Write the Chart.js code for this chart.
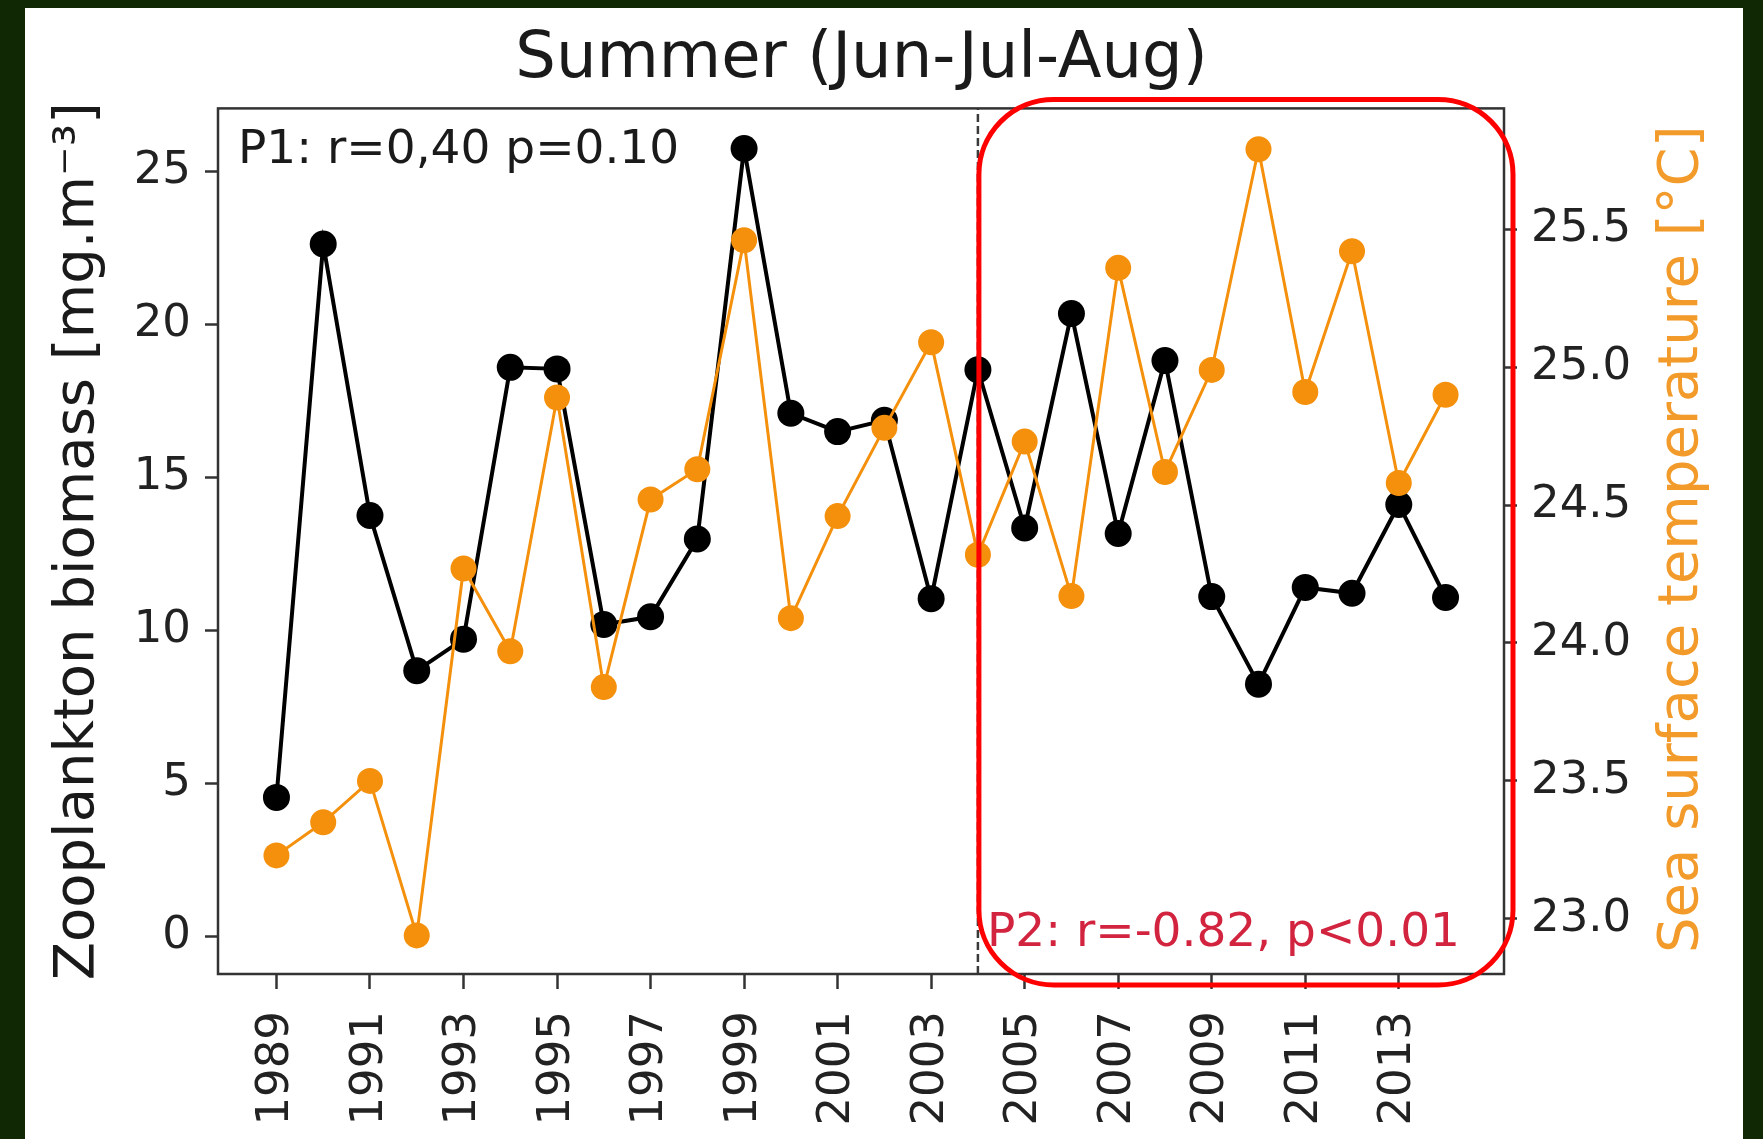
<!DOCTYPE html>
<html>
<head>
<meta charset="utf-8">
<script src="https://cdn.jsdelivr.net/npm/chart.js@4.4.0/dist/chart.umd.min.js"></script>
<style>
  html, body { margin:0; padding:0; background:#112805; }
  #caja { position:absolute; left:0; top:0; width:1763px; height:1139px; }
</style>
</head>
<body>
<div id="caja"><canvas id="grafico" width="1763" height="1139"></canvas></div>
<script>
// datos
var anios = [1989,1990,1991,1992,1993,1994,1995,1996,1997,1998,1999,2000,2001,
             2002,2003,2004,2005,2006,2007,2008,2009,2010,2011,2012,2013,2014];
var zooplancton = [4.55,22.63,13.76,8.69,9.72,18.6,18.55,10.2,10.45,12.99,25.75,17.1,16.5,
                   16.87,11.04,18.52,13.35,20.36,13.17,18.82,11.11,8.25,11.41,11.22,14.12,11.08];
var temperatura = [23.23,23.35,23.50,22.94,24.27,23.97,24.89,23.84,24.52,24.63,25.46,24.09,24.46,
                   24.78,25.09,24.32,24.73,24.17,25.36,24.62,24.99,25.79,24.91,25.42,24.58,24.90];
var ticksX = [1989,1991,1993,1995,1997,1999,2001,2003,2005,2007,2009,2011,2013];
var ticksIzq = [0,5,10,15,20,25];
var ticksDer = [23.0,23.5,24.0,24.5,25.0,25.5];
var anioCorte = 2004;
var limitesIzq = [-1.22, 27.06];
var titulo = 'Summer (Jun-Jul-Aug)';
var etiquetaIzq = 'Zooplankton biomass [mg.m\u207B\u00B3]';
var etiquetaDer = 'Sea surface temperature [\u00B0C]';
var textoP1 = 'P1: r=0,40 p=0.10';
var textoP2 = 'P2: r=-0.82, p<0.01';

var fuente = 'DejaVu Sans';
var naranja = '#f4900c';

// fondo verde y hoja blanca
var fondo = {
  id: 'fondo',
  beforeDraw: function(chart){
    var ctx = chart.ctx;
    ctx.save();
    ctx.fillStyle = '#112805';
    ctx.fillRect(0, 0, chart.width, chart.height);
    ctx.fillStyle = '#ffffff';
    ctx.fillRect(25, 8, 1718, chart.height - 8);
    ctx.restore();
  }
};

// marco, textos y recuadro rojo
var extras = {
  id: 'extras',
  afterDatasetsDraw: function(chart){
    var ctx = chart.ctx;
    var a = chart.chartArea;
    var xc = chart.scales.x.getPixelForValue(anioCorte);
    ctx.save();
    ctx.strokeStyle = '#333333';
    ctx.lineWidth = 2.5;
    ctx.strokeRect(a.left, a.top, a.right - a.left, a.bottom - a.top);

    ctx.fillStyle = '#1a1a1a';
    ctx.font = '47px "' + fuente + '"';
    ctx.textBaseline = 'middle';
    ctx.textAlign = 'left';
    ctx.fillText(textoP1, a.left + 20, a.top + 42);

    ctx.fillStyle = '#d2233f';
    ctx.fillText(textoP2, xc + 9, a.bottom - 40);

    // etiqueta del eje derecho, de abajo hacia arriba
    ctx.fillStyle = '#f29a2a';
    ctx.font = '56px "' + fuente + '"';
    ctx.textAlign = 'center';
    ctx.translate(a.right + 178, (a.top + a.bottom) / 2 - 2);
    ctx.rotate(-Math.PI / 2);
    ctx.fillText(etiquetaDer, 0, 0);
    ctx.restore();

    ctx.save();
    ctx.strokeStyle = '#ff0000';
    ctx.lineWidth = 5;
    ctx.beginPath();
    ctx.roundRect(xc + 1, a.top - 9, (a.right + 9) - (xc + 1), (a.bottom + 11) - (a.top - 9), 75);
    ctx.stroke();
    ctx.restore();
  }
};

var puntos = function(valores){
  return anios.map(function(an, i){ return {x: an, y: valores[i]}; });
};

var ctxG = document.getElementById('grafico').getContext('2d');
var grafico = new Chart(ctxG, {
  type: 'line',
  data: {
    datasets: [
      {
        label: 'SST',
        data: puntos(temperatura),
        yAxisID: 'y1',
        borderColor: naranja,
        backgroundColor: naranja,
        borderWidth: 3,
        pointRadius: 13,
        pointBorderWidth: 0,
        pointBackgroundColor: naranja,
        tension: 0,
        order: 0
      },
      {
        label: 'Zooplankton',
        data: puntos(zooplancton),
        yAxisID: 'y',
        borderColor: '#000000',
        backgroundColor: '#000000',
        borderWidth: 4,
        pointRadius: 13.5,
        pointBorderWidth: 0,
        pointBackgroundColor: '#000000',
        tension: 0,
        order: 1
      },
      {
        label: 'corte',
        data: [{x: anioCorte, y: limitesIzq[0]}, {x: anioCorte, y: limitesIzq[1]}],
        yAxisID: 'y',
        borderColor: '#3a3a3a',
        borderWidth: 2.5,
        borderDash: [8, 4],
        pointRadius: 0,
        order: 2
      }
    ]
  },
  options: {
    responsive: false,
    animation: false,
    layout: { padding: { left: 0, right: 40, top: 0, bottom: 0 } },
    plugins: {
      legend: { display: false },
      tooltip: { enabled: false },
      title: {
        display: true,
        text: titulo,
        color: '#1a1a1a',
        font: { family: fuente, size: 64, weight: 'normal' },
        padding: { top: 22, bottom: 9.6 }
      }
    },
    scales: {
      x: {
        type: 'linear',
        min: 1987.75,
        max: 2015.25,
        afterBuildTicks: function(s){ s.ticks = ticksX.map(function(v){ return {value: v}; }); },
        afterFit: function(s){ s.height = 165; },
        ticks: {
          autoSkip: false,
          minRotation: 90,
          maxRotation: 90,
          padding: 22,
          color: '#222222',
          font: { family: fuente, size: 45 },
          callback: function(v){ return String(v); }
        },
        grid: { drawOnChartArea: false, tickLength: 15, tickWidth: 2.5, tickColor: '#333333' },
        border: { display: false }
      },
      y: {
        position: 'left',
        min: limitesIzq[0],
        max: limitesIzq[1],
        afterBuildTicks: function(s){ s.ticks = ticksIzq.map(function(v){ return {value: v}; }); },
        afterFit: function(s){ s.width = 218; },
        ticks: {
          padding: 14,
          color: '#222222',
          font: { family: fuente, size: 45 },
          callback: function(v){ return String(v); }
        },
        grid: { drawOnChartArea: false, tickLength: 13, tickWidth: 2.5, tickColor: '#333333' },
        border: { display: false },
        title: {
          display: true,
          text: etiquetaIzq,
          color: '#1a1a1a',
          font: { family: fuente, size: 56 },
          padding: { top: 45, bottom: 0 }
        }
      },
      y1: {
        position: 'right',
        min: 22.8,
        max: 25.938,
        afterBuildTicks: function(s){ s.ticks = ticksDer.map(function(v){ return {value: v}; }); },
        afterFit: function(s){ s.width = 219; },
        ticks: {
          padding: 14,
          color: '#222222',
          font: { family: fuente, size: 45 },
          callback: function(v){ return Number(v).toFixed(1); }
        },
        grid: { drawOnChartArea: false, tickLength: 13, tickWidth: 2.5, tickColor: '#333333' },
        border: { display: false }
      }
    }
  },
  plugins: [fondo, extras]
});
</script>
</body>
</html>
